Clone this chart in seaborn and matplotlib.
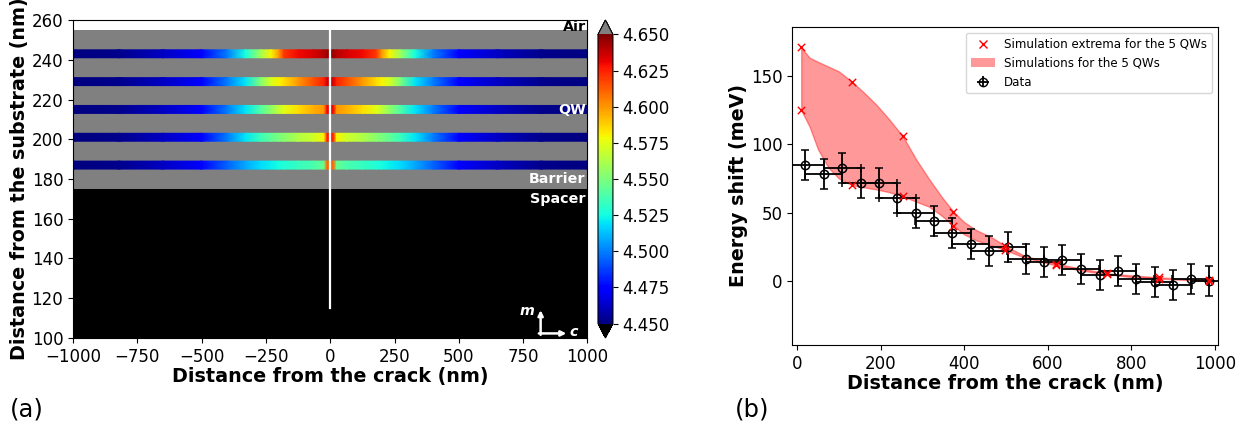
import numpy as np
import pandas as pd
import matplotlib
matplotlib.use("Agg")
import matplotlib.pyplot as plt
import seaborn as sns
from matplotlib.colors import Normalize
from matplotlib.patches import Patch

# ---------------- Data: panel (a) ----------------
layer_edges_y = [100, 175, 255, 260]          # spacer / barrier / air
layer_values = [4.40, 4.70, np.nan]           # below range -> black, above -> gray, air -> white
qw_bottoms = [185, 199, 213, 227, 241]
qw_thickness = 4
prof_x = [5, 12, 25, 65, 125, 180, 200, 230, 270, 330, 400, 500, 650, 820, 1000]
qw5_vals = [4.61, 4.61, 4.545, 4.538, 4.533, 4.528, 4.525, 4.522, 4.518, 4.508, 4.495, 4.475, 4.462, 4.453, 4.45]
qw4_vals = [4.625, 4.625, 4.58, 4.57, 4.563, 4.553, 4.55, 4.543, 4.535, 4.52, 4.50, 4.475, 4.462, 4.453, 4.45]
qw3_vals = [4.63, 4.63, 4.60, 4.595, 4.585, 4.575, 4.567, 4.555, 4.54, 4.52, 4.50, 4.475, 4.462, 4.453, 4.45]
qw2_vals = [4.635, 4.635, 4.625, 4.615, 4.60, 4.585, 4.58, 4.572, 4.552, 4.52, 4.50, 4.475, 4.462, 4.453, 4.45]
qw1_vals = [4.645, 4.645, 4.64, 4.635, 4.63, 4.62, 4.60, 4.58, 4.56, 4.525, 4.50, 4.473, 4.462, 4.453, 4.45]
cbar_ticks = [4.450, 4.475, 4.500, 4.525, 4.550, 4.575, 4.600, 4.625, 4.650]

# ---------------- Data: panel (b) ----------------
data_x = [20, 64, 108, 152, 196, 240, 284, 327, 371, 415, 459, 504, 548, 591, 635, 679, 724, 768, 811, 856, 900, 942, 986]
data_y = [85, 78.5, 83, 71.5, 72, 61, 50, 44, 35, 27, 22, 25, 16, 14, 15, 9, 4.5, 7.5, 1.5, -0.5, -3, 1.5, -0.2]
data_xerr = 44
data_yerr = 11

ext_x = [10, 131, 253, 374, 498, 619, 742, 866, 985]
ext_max = [171, 146, 106, 50.7, 25.7, 12.6, 5.5, 2.6, 0.7]
ext_min = [125, 70.2, 62, 40.5, 22.6, 11.4, 4.8, 1.7, -0.2]

band_x = [10, 30, 50, 75, 100, 131, 160, 190, 220, 253, 285, 315, 345, 374, 400, 430, 465, 498, 540, 580, 619, 680, 742, 800, 866, 925, 985]
band_hi = [171, 163.5, 160.5, 157, 153.5, 146, 138, 129, 118.5, 106, 89, 75, 62, 50.7, 43, 37, 32, 25.7, 19, 15.2, 12.6, 9, 5.5, 4, 2.6, 1.5, 0.7]
band_lo = [125, 113, 96.4, 83, 75, 70.2, 68.5, 67, 65, 62, 58, 54.5, 48, 40.5, 34, 29.5, 26, 22.6, 17.5, 14.2, 11.4, 7.5, 4.8, 2.8, 1.7, 0.7, -0.2]

# ---------------- Figure ----------------
TICK = 12
LABEL = 13.8

fig = plt.figure(figsize=(12.56, 4.32), dpi=100)
ax1 = fig.add_axes([0.0581, 0.2176, 0.4096, 0.7361])
cax = fig.add_axes([0.4761, 0.2176, 0.0119, 0.7361])
ax2 = fig.add_axes([0.6306, 0.2014, 0.3391, 0.7361])

cmap = plt.get_cmap("jet").copy()
cmap.set_over("gray")
cmap.set_under("black")
cmap.set_bad("white")
norm = Normalize(vmin=4.45, vmax=4.65)

base = ax1.pcolormesh([-1000, 1000], layer_edges_y,
                      np.ma.masked_invalid(np.array(layer_values).reshape(-1, 1)),
                      cmap=cmap, norm=norm, shading="flat")

px = np.array(prof_x, dtype=float)
for yb, vals in zip(qw_bottoms, [qw5_vals, qw4_vals, qw3_vals, qw2_vals, qw1_vals]):
    v = np.array(vals)
    yy = [yb, yb + qw_thickness]
    C = np.vstack([v, v])
    ax1.pcolormesh(px, yy, C, cmap=cmap, norm=norm, shading="gouraud")
    ax1.pcolormesh(-px[::-1], yy, C[:, ::-1], cmap=cmap, norm=norm, shading="gouraud")

ax1.plot([0, 0], [115, 255], color="white", lw=1.6, zorder=5)

ax1.set_xlim(-1000, 1000)
ax1.set_ylim(100, 260)
ax1.set_yticks(range(100, 261, 20))
ax1.set_xticks(range(-1000, 1001, 250))
ax1.tick_params(labelsize=TICK)
ax1.set_xlabel("Distance from the crack (nm)", fontsize=LABEL, fontweight="bold", labelpad=1)
ax1.set_ylabel("Distance from the substrate (nm)", fontsize=LABEL, fontweight="bold", labelpad=2)

tk = dict(fontsize=10.3, fontweight="bold", ha="right", va="center")
ax1.text(993, 256.6, "Air", color="black", **tk)
ax1.text(993, 214.6, "QW", color="white", **tk)
ax1.text(993, 180, "Barrier", color="white", **tk)
ax1.text(993, 170, "Spacer", color="white", **tk)

ax1.annotate("", xy=(818, 114), xytext=(818, 101.6),
             arrowprops=dict(arrowstyle="-|>,head_length=0.3,head_width=0.15", color="white", lw=1.8, shrinkA=0, shrinkB=0))
ax1.annotate("", xy=(918, 102.3), xytext=(811, 102.3),
             arrowprops=dict(arrowstyle="-|>,head_length=0.3,head_width=0.15", color="white", lw=1.8, shrinkA=0, shrinkB=0))
ax1.text(765, 113.5, "m", color="white", fontsize=10.3, fontweight="bold", style="italic", ha="center", va="center")
ax1.text(945, 102.8, "c", color="white", fontsize=10.3, fontweight="bold", style="italic", ha="center", va="center")

cb = fig.colorbar(base, cax=cax, extend="both", ticks=cbar_ticks, format="%.3f")
cb.ax.tick_params(labelsize=TICK)

# ---------------- Panel (b) ----------------
ax2.fill_between(band_x, band_lo, band_hi, color="red", alpha=0.4, zorder=1)
ax2.errorbar(data_x, data_y, xerr=data_xerr, yerr=data_yerr, fmt="o", mfc="none", mec="black",
             color="black", ms=6, mew=1.1, capsize=2.6, elinewidth=1.3, capthick=1.3, zorder=2)
ext_df = pd.DataFrame({"x": ext_x + ext_x, "y": ext_max + ext_min})
sns.scatterplot(data=ext_df, x="x", y="y", marker="x", color="red", s=28, linewidth=1.0, ax=ax2, zorder=3)

ax2.set_xlim(-12, 1007)
ax2.set_ylim(-47, 186)
ax2.set_xticks(range(0, 1001, 200))
ax2.set_yticks([0, 50, 100, 150])
ax2.tick_params(labelsize=TICK)
ax2.set_xlabel("Distance from the crack (nm)", fontsize=LABEL, fontweight="bold", labelpad=1)
ax2.set_ylabel("Energy shift (meV)", fontsize=LABEL, fontweight="bold", labelpad=2)

h_ext = plt.Line2D([], [], ls="none", marker="x", color="red", ms=5.5, mew=1.0)
h_band = Patch(facecolor="red", alpha=0.4, edgecolor="none")
h_data = ax2.errorbar([], [], xerr=[], yerr=[], fmt="o", mfc="none", mec="black", color="black",
                      ms=6, capsize=2.6, elinewidth=1.3)
ax2.legend([h_ext, h_band, h_data],
           ["Simulation extrema for the 5 QWs", "Simulations for the 5 QWs", "Data"],
           loc="upper right", fontsize=8.6)

fig.text(0.008, 0.051, "(a)", fontsize=17.5, va="center", ha="left")
fig.text(0.585, 0.051, "(b)", fontsize=17.5, va="center", ha="left")

fig.savefig("out.png", dpi=100)
